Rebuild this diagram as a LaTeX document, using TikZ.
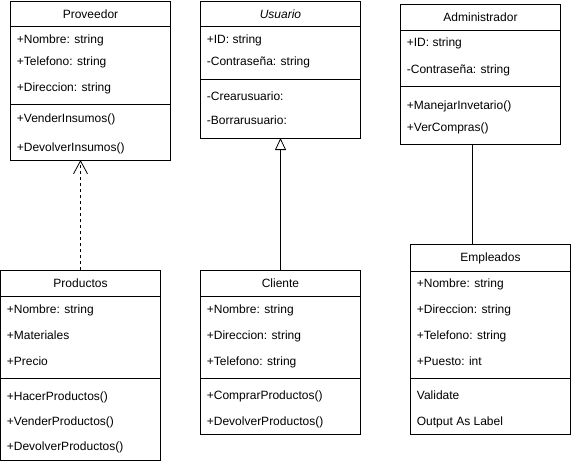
\documentclass[tikz,border=0pt]{standalone}
\usepackage{fontspec}
\setmainfont{Liberation Sans}
\usetikzlibrary{arrows.meta}
\begin{document}
\begin{tikzpicture}[x=1pt,y=-1pt,line width=0.8pt,
  cls/.style={draw, rectangle, inner sep=0pt, outer sep=0pt, anchor=north west, minimum width=160pt},
  item/.style={anchor=west, inner sep=0pt, text height=9pt, text depth=3pt, font=\fontsize{12}{14}\selectfont},
  ttl/.style={inner sep=0pt, text height=9pt, text depth=3pt, font=\fontsize{12}{14}\selectfont},
  dep/.style={dash pattern=on 3pt off 3pt, -{Straight Barb[length=13pt,width=14pt,line width=0.8pt]}},
  inh/.style={-{Triangle[open,length=12pt,width=11pt,fill=white,line width=0.8pt]}}]
\useasboundingbox (0,0) rectangle (571,464);

% Proveedor
\node[cls, minimum height=159pt] (prov) at (10.5,1) {};
\draw (prov.west |- 0,26) -- (prov.east |- 0,26);
\draw (prov.west |- 0,104) -- (prov.east |- 0,104);
\node[ttl] (provT) at (90.5,15) {Proveedor};
\node[item] (prov1) at (16.5,40) {+Nombre: string};
\node[item] (prov2) at (16.5,62) {+Telefono: string};
\node[item] (prov3) at (16.5,88) {+Direccion: string};
\node[item] (prov4) at (16.5,119) {+VenderInsumos()};
\node[item] (prov5) at (16.5,148) {+DevolverInsumos()};

% Usuario
\node[cls, minimum height=137pt] (usu) at (200.5,1) {};
\draw (usu.west |- 0,26) -- (usu.east |- 0,26);
\draw (usu.west |- 0,79) -- (usu.east |- 0,79);
\node[ttl] (usuT) at (280.5,15) {\itshape Usuario};
\node[item] (usu1) at (206.5,40) {+ID: string};
\node[item] (usu2) at (206.5,62) {-Contraseña: string};
\node[item] (usu3) at (206.5,97) {-Crearusuario:};
\node[item] (usu4) at (206.5,121) {-Borrarusuario:};

% Administrador
\node[cls, minimum height=139.5pt] (adm) at (400.5,4.5) {};
\draw (adm.west |- 0,30) -- (adm.east |- 0,30);
\draw (adm.west |- 0,86) -- (adm.east |- 0,86);
\node[ttl] (admT) at (480.5,18) {Administrador};
\node[item] (adm1) at (406.5,43) {+ID: string};
\node[item] (adm2) at (406.5,70) {-Contraseña: string};
\node[item] (adm3) at (406.5,106) {+ManejarInvetario()};
\node[item] (adm4) at (406.5,128) {+VerCompras()};

% Productos
\node[cls, minimum height=190pt] (prod) at (0.5,270) {};
\draw (prod.west |- 0,296) -- (prod.east |- 0,296);
\draw (prod.west |- 0,378) -- (prod.east |- 0,378);
\node[ttl] (prodT) at (80.5,284) {Productos};
\node[item] (prod1) at (6.5,310) {+Nombre: string};
\node[item] (prod2) at (6.5,336) {+Materiales};
\node[item] (prod3) at (6.5,362) {+Precio};
\node[item] (prod4) at (6.5,397) {+HacerProductos()};
\node[item] (prod5) at (6.5,422) {+VenderProductos()};
\node[item] (prod6) at (6.5,447) {+DevolverProductos()};

% Cliente
\node[cls, minimum height=164pt] (cli) at (200.5,270) {};
\draw (cli.west |- 0,296) -- (cli.east |- 0,296);
\draw (cli.west |- 0,378) -- (cli.east |- 0,378);
\node[ttl] (cliT) at (280.5,284) {Cliente};
\node[item] (cli1) at (206.5,310) {+Nombre: string};
\node[item] (cli2) at (206.5,336) {+Direccion: string};
\node[item] (cli3) at (206.5,362) {+Telefono: string};
\node[item] (cli4) at (206.5,396) {+ComprarProductos()};
\node[item] (cli5) at (206.5,422) {+DevolverProductos()};

% Empleados
\node[cls, minimum height=190pt] (emp) at (410.5,244) {};
\draw (emp.west |- 0,271) -- (emp.east |- 0,271);
\draw (emp.west |- 0,378) -- (emp.east |- 0,378);
\node[ttl] (empT) at (490.5,258) {Empleados};
\node[item] (emp1) at (416.5,284) {+Nombre: string};
\node[item] (emp2) at (416.5,310) {+Direccion: string};
\node[item] (emp3) at (416.5,336) {+Telefono: string};
\node[item] (emp4) at (416.5,362) {+Puesto: int};
\node[item] (emp5) at (416.5,396) {Validate};
\node[item] (emp6) at (416.5,422) {Output As Label};

% Connectors
\coordinate (pa) at (prod.north);
\draw[dep] (pa) -- (pa |- prov.south);
\coordinate (ca) at (cli.north);
\draw[inh] (ca) -- (ca |- usu.south);
\path (adm.south west) ++(72,0) coordinate (aa);
\draw (aa) -- (aa |- emp.north);
\end{tikzpicture}
\end{document}
